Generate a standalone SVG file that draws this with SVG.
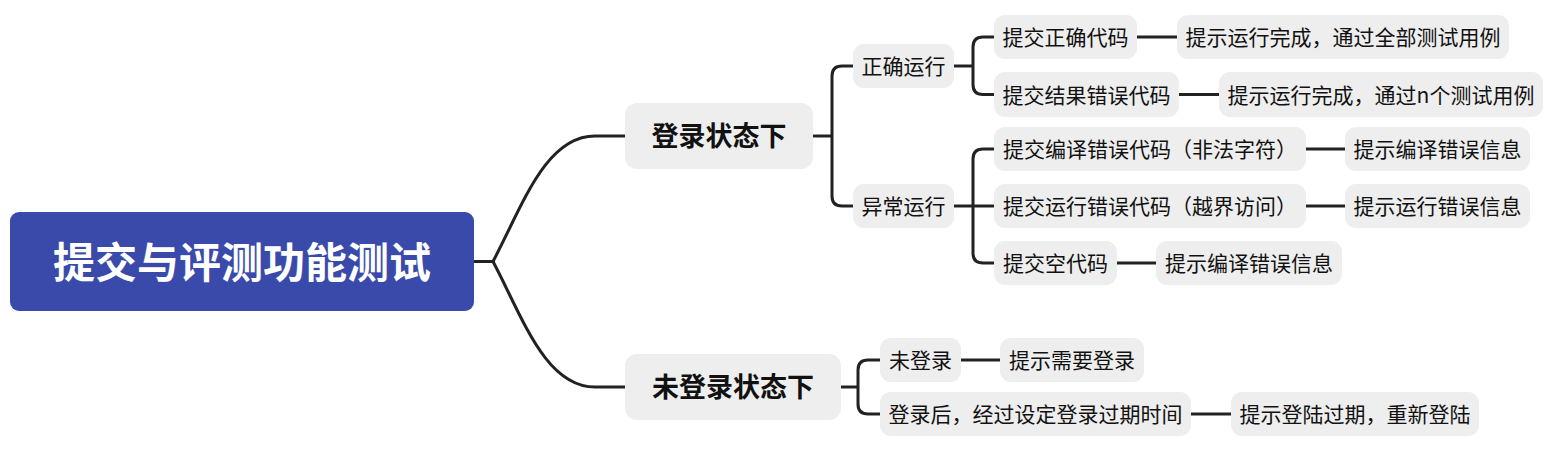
<svg xmlns="http://www.w3.org/2000/svg" width="1554" height="453" viewBox="0 0 1554 453">
<style>
.n rect{fill:#eeeeee}
.t{font-family:"Microsoft YaHei","Noto Sans CJK SC",sans-serif;font-size:21px;fill:#111;text-anchor:middle}
.t1{font-family:"Microsoft YaHei","Noto Sans CJK SC",sans-serif;font-size:27px;font-weight:bold;fill:#111;text-anchor:middle}
.t0{font-family:"Microsoft YaHei","Noto Sans CJK SC",sans-serif;font-size:42px;font-weight:bold;fill:#fff;text-anchor:middle}
.c path{fill:none;stroke:#222;stroke-width:3;stroke-linecap:butt}
</style>
<rect width="1554" height="453" fill="#fff"/>
<g class="c" id="connectors">
<path d="M474,261.5 H493"/>
<path d="M493,261.5 C522,207 545,136 595,136 H625" stroke-width="2.6"/>
<path d="M493,261.5 C522,316 545,387 595,387 H625" stroke-width="2.6"/>
<path d="M813,136 H832"/>
<path d="M853,66 H842 Q832,66 832,76 V196 Q832,206 842,206 H853"/>
<path d="M954,66 H973"/>
<path d="M994,37 H983 Q973,37 973,47 V84.5 Q973,94.5 983,94.5 H994"/>
<path d="M954,206 H994"/>
<path d="M994,149 H983 Q973,149 973,159 V253 Q973,263 983,263 H994"/>
<path d="M1137,37 H1177"/>
<path d="M1179,94.5 H1219"/>
<path d="M1306,149 H1345"/>
<path d="M1306,206 H1345"/>
<path d="M1117,263 H1156"/>
<path d="M841,387 H858"/>
<path d="M880,360 H868 Q858,360 858,370 V404 Q858,414 868,414 H880"/>
<path d="M961,360 H1000"/>
<path d="M1191,414 H1231"/>
</g>
<g id="root"><rect x="10" y="212" width="464" height="99" rx="9" fill="#3a4aab"/><text class="t0" x="242" y="278">提交与评测功能测试</text></g>
<g id="login" class="n"><rect x="625" y="103" width="188" height="66" rx="12"/><text class="t1" x="719" y="146">登录状态下</text></g>
<g id="nologin" class="n"><rect x="625" y="354" width="216" height="66" rx="12"/><text class="t1" x="733" y="397">未登录状态下</text></g>
<g id="correct" class="n"><rect x="853" y="44" width="101" height="44" rx="11"/><text class="t" x="903.5" y="74">正确运行</text></g>
<g id="abnormal" class="n"><rect x="853" y="184" width="101" height="44" rx="11"/><text class="t" x="903.5" y="214">异常运行</text></g>
<g id="c1" class="n"><rect x="994" y="15" width="143" height="44" rx="11"/><text class="t" x="1065.5" y="45">提交正确代码</text></g>
<g id="c2" class="n"><rect x="994" y="72" width="185" height="45" rx="11"/><text class="t" x="1086.5" y="102.5">提交结果错误代码</text></g>
<g id="r1" class="n"><rect x="1177" y="15" width="332" height="44" rx="11"/><text class="t" x="1343" y="45">提示运行完成，通过全部测试用例</text></g>
<g id="r2" class="n"><rect x="1219" y="72" width="324" height="45" rx="11"/><text class="t" x="1381" y="102.5">提示运行完成，通过n个测试用例</text></g>
<g id="a1" class="n"><rect x="994" y="127" width="312" height="44" rx="11"/><text class="t" x="1150" y="157">提交编译错误代码（非法字符）</text></g>
<g id="a2" class="n"><rect x="994" y="184" width="312" height="44" rx="11"/><text class="t" x="1150" y="214">提交运行错误代码（越界访问）</text></g>
<g id="a3" class="n"><rect x="994" y="241" width="123" height="44" rx="11"/><text class="t" x="1055.5" y="271">提交空代码</text></g>
<g id="ar1" class="n"><rect x="1345" y="127" width="185" height="44" rx="11"/><text class="t" x="1437.5" y="157">提示编译错误信息</text></g>
<g id="ar2" class="n"><rect x="1345" y="184" width="185" height="44" rx="11"/><text class="t" x="1437.5" y="214">提示运行错误信息</text></g>
<g id="ar3" class="n"><rect x="1156" y="241" width="186" height="44" rx="11"/><text class="t" x="1249" y="271">提示编译错误信息</text></g>
<g id="n1" class="n"><rect x="880" y="338" width="81" height="44" rx="11"/><text class="t" x="920.5" y="368">未登录</text></g>
<g id="n2" class="n"><rect x="880" y="392" width="311" height="44" rx="11"/><text class="t" x="1035.5" y="422">登录后，经过设定登录过期时间</text></g>
<g id="nr1" class="n"><rect x="1000" y="338" width="144" height="44" rx="11"/><text class="t" x="1072" y="368">提示需要登录</text></g>
<g id="nr2" class="n"><rect x="1231" y="392" width="248" height="44" rx="11"/><text class="t" x="1355" y="422">提示登陆过期，重新登陆</text></g>
</svg>
